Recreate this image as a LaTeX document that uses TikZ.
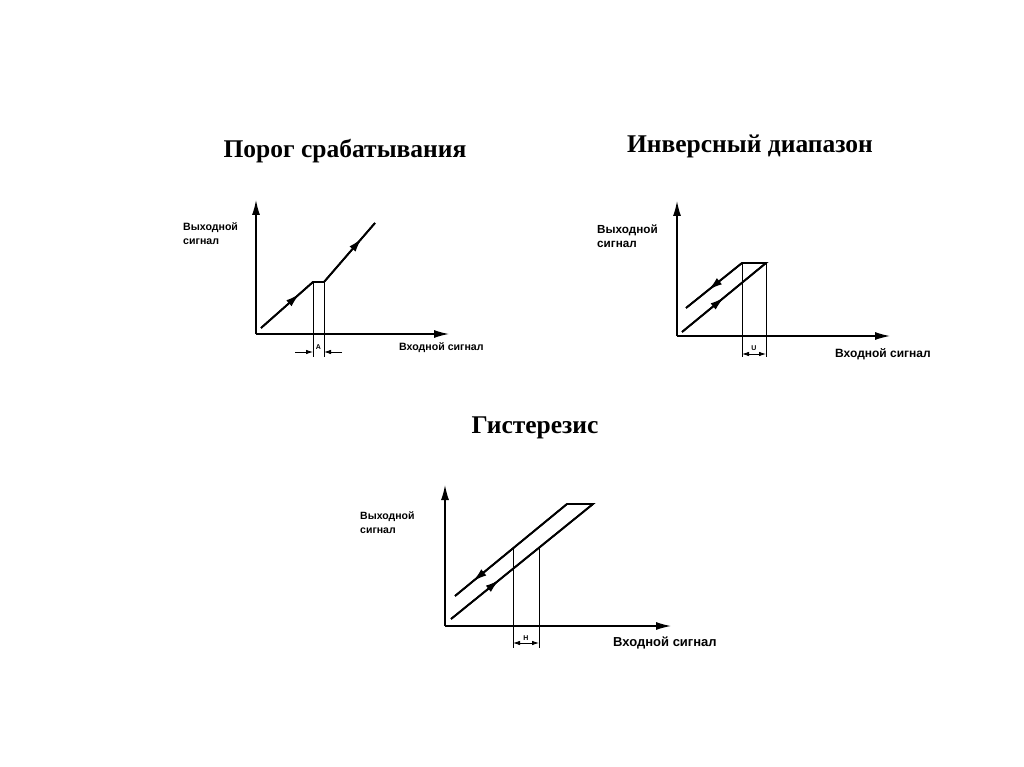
\documentclass[tikz,border=0pt]{standalone}
\usepackage{fontspec}
\setmainfont{Liberation Serif}
\newfontfamily\lblfont{Liberation Sans}
\usetikzlibrary{arrows.meta,decorations.markings}
\tikzset{
    axis/.style={line width=1.3pt, -{Latex[length=15pt,width=8pt]}},
    curve/.style={line width=1.8pt},
    guide/.style={line width=0.9pt},
    dimline/.style={line width=0.8pt, -{Latex[length=7pt,width=4.5pt]}},
    midarrow/.style={postaction={decorate}, decoration={markings,
        mark=at position #1 with {\arrow{Latex[length=14pt,width=8pt]}}}},
    title/.style={font=\bfseries\fontsize{25.5}{28}\selectfont, anchor=base},
    lbl/.style={font=\lblfont\bfseries\fontsize{#1}{13.8}\selectfont,
        align=left, anchor=west, inner sep=0pt},
    dimlbl/.style={font=\lblfont\bfseries\fontsize{7}{8}\selectfont, inner sep=0pt}
}

\begin{document}
\begin{tikzpicture}[x=1pt, y=-1pt]
  \useasboundingbox[fill=white] (0,0) rectangle (1024,767);

  % titles
  \node (t1) [title] at (345,158) {Порог срабатывания};
  \node (t2) [title] at (750,153) {Инверсный диапазон};
  \node (t3) [title] at (535,433) {Гистерезис};

  % first diagram
  \coordinate (o1) at (256,334);
  \coordinate (y1) at (256,200);
  \coordinate (x1) at (449,334);
  \coordinate (p1) at (261,328);
  \coordinate (p2) at (313,282);
  \coordinate (p3) at (324,282);
  \coordinate (p4) at (375,223);
  \coordinate (a1) at (313,357);
  \coordinate (a2) at (324,357);
  \coordinate (d1) at (295,352);
  \coordinate (d2) at (342,352);
  \draw[axis] (o1) -- (y1);
  \draw[axis] (o1) -- (x1);
  \draw[curve, line join=miter] (p1) -- (p2) -- (p3) -- (p4);
  \draw[curve, midarrow=0.74] (p1) -- (p2);
  \draw[curve, midarrow=0.74] (p3) -- (p4);
  \draw[guide] (p2) -- (a1);
  \draw[guide] (p3) -- (a2);
  \draw[dimline] (d1) -- (d1 -| a1);
  \draw[dimline] (d2) -- (d2 -| a2);
  \node (na) [dimlbl] at (318.5,347) {A};
  \node (ny1) [lbl=10.6] at (183,234) {Выходной\\сигнал};
  \node (nx1) [lbl=10.6] at (399,348) {Входной сигнал};

  % second diagram
  \coordinate (o2) at (677,336);
  \coordinate (y2) at (677,201);
  \coordinate (x2) at (890,336);
  \coordinate (q1) at (686,308);
  \coordinate (q2) at (742,263);
  \coordinate (q3) at (766,263);
  \coordinate (q4) at (682,332);
  \coordinate (b1) at (742,357);
  \coordinate (b2) at (766,357);
  \coordinate (e1) at (754,354);
  \draw[axis] (o2) -- (y2);
  \draw[axis] (o2) -- (x2);
  \draw[curve, line join=miter] (q1) -- (q2) -- (q3) -- (q4);
  \draw[curve, midarrow=0.6] (q2) -- (q1);
  \draw[curve, midarrow=0.5] (q4) -- (q3);
  \draw[guide] (q2) -- (b1);
  \draw[guide] (q3) -- (b2);
  \draw[dimline] (e1) -- (e1 -| b1);
  \draw[dimline] (e1) -- (e1 -| b2);
  \node (nu) [dimlbl, fill=white, inner sep=0.5pt] at (754,348) {U};
  \node (ny2) [lbl=11.7] at (597,236) {Выходной\\сигнал};
  \node (nx2) [lbl=12] at (835,354) {Входной сигнал};

  % third diagram
  \coordinate (o3) at (445,626);
  \coordinate (y3) at (445,485);
  \coordinate (x3) at (671,626);
  \coordinate (r1) at (455,596);
  \coordinate (r2) at (567,504);
  \coordinate (r3) at (593,504);
  \coordinate (r4) at (451,619);
  \coordinate (s1) at (513,548.4);
  \coordinate (s2) at (539,548.2);
  \coordinate (c1) at (513,648);
  \coordinate (c2) at (539,648);
  \coordinate (f1) at (526,643);
  \draw[axis] (o3) -- (y3);
  \draw[axis] (o3) -- (x3);
  \draw[curve, line join=miter] (r1) -- (r2) -- (r3) -- (r4);
  \draw[curve, midarrow=0.84] (r2) -- (r1);
  \draw[curve, midarrow=0.34] (r4) -- (r3);
  \draw[guide] (s1) -- (c1);
  \draw[guide] (s2) -- (c2);
  \draw[dimline] (f1) -- (f1 -| c1);
  \draw[dimline] (f1) -- (f1 -| c2);
  \node (nh) [dimlbl, fill=white, inner sep=0.5pt] at (526,638) {H};
  \node (ny3) [lbl=10.5] at (360,522.5) {Выходной\\сигнал};
  \node (nx3) [lbl=13] at (613,643) {Входной сигнал};
\end{tikzpicture}
\end{document}
